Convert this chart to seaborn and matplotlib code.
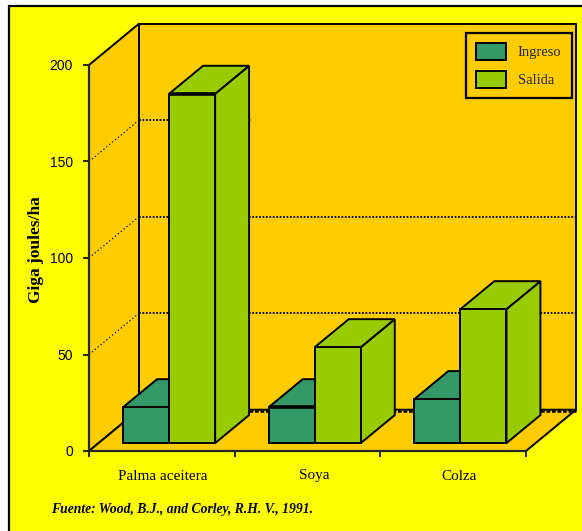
import pandas as pd
import seaborn as sns
import matplotlib.pyplot as plt
from matplotlib.patches import Polygon, Rectangle

# data
cultivos = ["Palma aceitera", "Soya", "Colza"]
ingreso = [18.6, 18.6, 22.8]
salida = [181, 49.7, 69.4]
y_ticks = [0, 50, 100, 150, 200]
y_grid = [50, 100, 150]
fuente = "Fuente: Wood, B.J., and Corley, R.H. V., 1991."

df = pd.DataFrame({
    "cultivo": cultivos * 2,
    "serie": ["Ingreso"] * 3 + ["Salida"] * 3,
    "valor": ingreso + salida,
})

# colours
COL_YELLOW = "#FFFF00"
COL_ORANGE = "#FFCC00"
COL_INGRESO = "#339966"
COL_SALIDA = "#99CC00"

# pseudo 3D geometry, in data units
WALL_DX, WALL_DY = 0.343, 21.4
BAR_DX, BAR_DY = 0.233, 14.5
OFF_X, OFF_Y = 0.05, 4.1
LW = 1.4

sns.set_style("white")
plt.rcParams["font.family"] = ["Liberation Sans", "DejaVu Sans"]

W, H = 582, 531
fig = plt.figure(figsize=(W / 100, H / 100), dpi=100, facecolor="white")
ax = fig.add_axes([89 / W, 1 - 451 / H, 437 / W, 386 / H])

# yellow chart area, its frame only shows on the top and left
fig.patches.append(Rectangle((9 / W, -0.05), 1.1, 1.05 - 6 / H, transform=fig.transFigure,
                             facecolor=COL_YELLOW, edgecolor="black", lw=1.6, zorder=-5))

sns.barplot(data=df, x="cultivo", y="valor", hue="serie", order=cultivos,
            hue_order=["Ingreso", "Salida"], palette=[COL_INGRESO, COL_SALIDA],
            saturation=1, width=0.632, edgecolor="black", linewidth=LW, ax=ax)

x0, x1 = -0.5, 2.5
ax.set_xlim(x0, x1)
ax.set_ylim(0, 200)
ax.patch.set_visible(False)

# walls and floor
wall_kw = dict(facecolor=COL_ORANGE, edgecolor="black", lw=LW, clip_on=False, joinstyle="miter")
ax.add_patch(Polygon([(x0 + WALL_DX, WALL_DY), (x1 + WALL_DX, WALL_DY),
                      (x1 + WALL_DX, 200 + WALL_DY), (x0 + WALL_DX, 200 + WALL_DY)],
                     zorder=1, **wall_kw))
ax.add_patch(Polygon([(x0, 0), (x0 + WALL_DX, WALL_DY),
                      (x0 + WALL_DX, 200 + WALL_DY), (x0, 200)], zorder=1, **wall_kw))
ax.add_patch(Polygon([(x0, 0), (x1, 0), (x1 + WALL_DX, WALL_DY), (x0 + WALL_DX, WALL_DY)],
                     zorder=1.2, **wall_kw))

# dotted grid, the upper one stops just behind the tall bar
for v in y_grid:
    end = x0 + 1.11 if v == 150 else x1 + WALL_DX
    ax.plot([x0, x0 + WALL_DX], [v, v + WALL_DY], color="black", lw=0.9, ls=(0, (1, 2)),
            clip_on=False, zorder=1.5)
    ax.plot([x0 + WALL_DX, end], [v + WALL_DY, v + WALL_DY], color="black", lw=1.3,
            ls=(0, (1, 0.9)), clip_on=False, zorder=1.5)
ax.plot([x0 + WALL_DX, x1 + WALL_DX], [WALL_DY - 0.8] * 2, color="black", lw=1.8,
        ls=(0, (1.5, 0.7)), clip_on=False, zorder=1.5)

# bars: shift the fronts on to the floor, then add side and top faces
for k, (cont, col) in enumerate(zip(ax.containers, [COL_INGRESO, COL_SALIDA])):
    for i, bar in enumerate(cont):
        bar.set_x(bar.get_x() + OFF_X)
        bar.set_y(OFF_Y)
        bar.set_zorder(4 + 2 * k)
        xl, xr = bar.get_x(), bar.get_x() + bar.get_width()
        yb, yt = bar.get_y(), bar.get_y() + bar.get_height()
        side = [(xr, yb), (xr + BAR_DX, yb + BAR_DY), (xr + BAR_DX, yt + BAR_DY), (xr, yt)]
        top = [(xl, yt), (xr, yt), (xr + BAR_DX, yt + BAR_DY), (xl + BAR_DX, yt + BAR_DY)]
        for pts in (side, top):
            ax.add_patch(Polygon(pts, facecolor=col, edgecolor="black", lw=LW,
                                 clip_on=False, zorder=3 + 2 * k))
        # two front tops are drawn heavier in the original
        if (k, i) in [(1, 0), (0, 1)]:
            ax.plot([xl, xr], [yt, yt], color="black", lw=2.6, zorder=4.5 + 2 * k,
                    solid_capstyle="butt")

# axes
sns.despine(ax=ax)
for s in ("left", "bottom"):
    ax.spines[s].set_linewidth(1.6)
    ax.spines[s].set_zorder(2.5)
ax.set_yticks(y_ticks)
ax.set_xticks([-0.5, 0.5, 1.5, 2.5])
ax.set_xticklabels([])
ax.tick_params(axis="both", direction="out", length=4.5, width=1.2, color="black",
               left=True, bottom=True)
ax.tick_params(axis="y", pad=7, labelsize=10, labelcolor="black")
ax.set_xlabel("")
ax.set_ylabel("")

serif = ["Liberation Serif", "DejaVu Serif"]
label_x = [163, 314, 459]
for name, px in zip(cultivos, label_x):
    fig.text(px / W, 1 - 476 / H, name, ha="center", va="center", family=serif,
             fontsize=11, color="black")
fig.text(36 / W, 1 - 250 / H, "Giga joules/ha", rotation=90, ha="center", va="center",
         family=serif, fontsize=12.5, fontweight="bold", color="black")
fig.text(51 / W, 1 - 510 / H, fuente, ha="left", va="center", family=serif,
         fontsize=9.8, fontweight="bold", style="italic", color="black")

# legend
sns.move_legend(ax, "upper left", bbox_to_anchor=(466 / W, 1 - 33 / H),
                bbox_transform=fig.transFigure, title=None, frameon=True, fancybox=False,
                facecolor=COL_ORANGE, edgecolor="black", framealpha=1, borderaxespad=0,
                handlelength=2.05, handleheight=1.35, handletextpad=0.8, labelspacing=0.8,
                borderpad=0.7, prop={"family": serif, "size": 10.5})
leg = ax.get_legend()
leg.get_frame().set_linewidth(1.6)
leg.set_zorder(20)

fig.savefig("out.png", dpi=100)
